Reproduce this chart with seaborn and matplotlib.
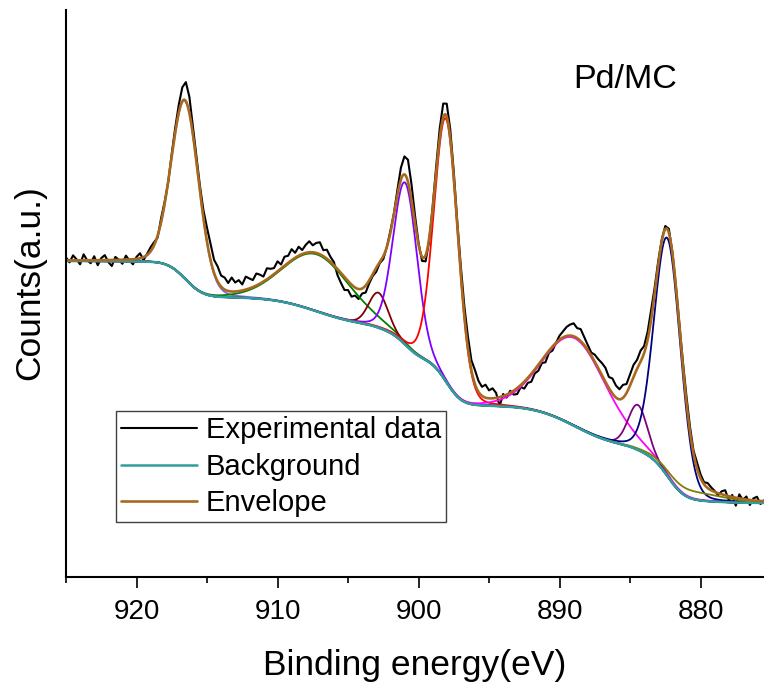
import numpy as np
import matplotlib
matplotlib.use("Agg")
import matplotlib.pyplot as plt
import seaborn as sns
from matplotlib.ticker import MultipleLocator

# -------------------------
# Fitted components (Pd 3d region)
# heights are counts above the Shirley background (a.u.)
# -------------------------
peak_centers = [916.55, 907.2, 902.85, 900.95, 898.05, 888.9, 884.45, 882.35, 880.5]
peak_heights = [178, 57, 35, 162, 263, 88, 45, 238, 8]
peak_fwhm = [2.3, 5.6, 1.6, 2.0, 2.0, 5.3, 1.6, 2.2, 5.0]
peak_colors = ["#7b68ee", "#008000", "#800000", "#8000ff", "#ff0000",
               "#ff00ff", "#800080", "#000080", "#808000"]

# background level at both ends of the window
bg_low = 74     # at 875.5 eV
bg_high = 316   # at 925 eV

# experimental data minus envelope, every 0.25 eV from 925 to 875.5 eV
residual = [
    3, -2, 5, 1, -4, 6, 0, -3, 4, -5, 2, 5, -2, -6, 3, 0, -4, 4, -1, -5, 2, 5, -3, 1, 4,
    3, -2, 4, 2, -1, 3, 5, 8,
    14, 19, 16,
    8, 6, 5, 8, 14, 16, 13, 15, 11,
    12, 8, 14, 9, 11, 6, 13, 10, 7, 12, 9, 5, 11, 8, 6, 10, 4, 9, 7, 11,
    5, 9, 4, 8, 11, 7, 10, 12, 6, 9, 5, 3,
    -6, -10, -13, -9, -12, -8, -10, -5, -7, -3,
    -2, -4, -1, -3, 0, 2, 1, 5,
    12, 18, 22, 16,
    8, 2, -4, -6, -3,
    2, 6, 10,
    14, 13, 9,
    6, 4, 8, 10,
    12, 10, 14, 11, 9, 13, 8, 10, 5, -9, 2,
    -3, 2, -4, -6, -2, -7, -5, -8, -4, -6, -3, -7, -2, -4,
    0, 4, 6, 9, 11, 13, 10, 12, 8, 5,
    3, 7, 9, 12, 14, 11, 15, 12, 10, 13, 9, 11,
    12, 9, 11, 7, 8, 10, 6, 4,
    2, 3, 4, 1,
    0, 2, 4, 6, 5, 3, 6, 4, 2, 5, 3, 1,
    -2, 3, 5, -4, 2, -8, 4, -1, 3, -5, 2, 4, -3, 1,
]

energy = np.linspace(925, 875.5, 991)


def pseudo_voigt(e, c, h, w, eta=0.1):
    g = np.exp(-4 * np.log(2) * ((e - c) / w) ** 2)
    l = 1 / (1 + 4 * ((e - c) / w) ** 2)
    return h * ((1 - eta) * g + eta * l)


peaks = [pseudo_voigt(energy, c, h, w) for c, h, w in zip(peak_centers, peak_heights, peak_fwhm)]
total = np.sum(peaks, axis=0)

# Shirley background
cum = np.cumsum(total[::-1])[::-1]
background = bg_low + (bg_high - bg_low) * cum / cum[0]
envelope = background + total

e_exp = energy[::5]
experimental = envelope[::5] + np.array(residual)

# -------------------------
# Plot
# -------------------------
sns.set_theme(style="ticks")
plt.rcParams["font.family"] = ["Liberation Sans", "DejaVu Sans"]
plt.rcParams["text.color"] = "black"
plt.rcParams["axes.labelcolor"] = "black"

fig = plt.figure(figsize=(7.64, 6.88), dpi=100)
ax = fig.add_axes([66 / 764, 111 / 688, 698 / 764, 567 / 688])

sns.lineplot(x=e_exp, y=experimental, ax=ax, color="black", linewidth=1.5,
             sort=False, estimator=None, label="Experimental data")
for p, col in zip(peaks, peak_colors):
    sns.lineplot(x=energy, y=background + p, ax=ax, color=col, linewidth=1.3,
                 sort=False, estimator=None)
sns.lineplot(x=energy, y=background, ax=ax, color="#2e9e9e", linewidth=1.8,
             sort=False, estimator=None, label="Background")
sns.lineplot(x=energy, y=envelope, ax=ax, color="#a8691e", linewidth=1.9,
             sort=False, estimator=None, label="Envelope")

ax.set_xlim(925, 875.5)
ax.set_ylim(0, 567)
ax.set_yticks([])
ax.xaxis.set_major_locator(MultipleLocator(10))
ax.xaxis.set_minor_locator(MultipleLocator(5))
ax.tick_params(axis="x", which="major", length=8, width=1.2, labelsize=20, pad=8,
               color="black", labelcolor="black")
ax.tick_params(axis="x", which="minor", length=4.5, width=1.2, color="black")
for s in ["left", "bottom"]:
    ax.spines[s].set_linewidth(1.5)
    ax.spines[s].set_color("black")
sns.despine(ax=ax)

ax.set_xlabel("Binding energy(eV)", fontsize=25.5, labelpad=17)
ax.set_ylabel("Counts(a.u.)", fontsize=25.5)
ax.yaxis.set_label_coords(-0.028, 0.52)
ax.text(889.0, 489, "Pd/MC", fontsize=24.5, ha="left", va="baseline")

ax.legend(loc="upper left", bbox_to_anchor=(50 / 698, 166 / 567), borderaxespad=0,
          frameon=True, fancybox=False, edgecolor="#404040", framealpha=1,
          fontsize=21, handlelength=2.6, handletextpad=0.3, labelspacing=0.3,
          borderpad=0.17)

fig.savefig("out.png", dpi=100)
